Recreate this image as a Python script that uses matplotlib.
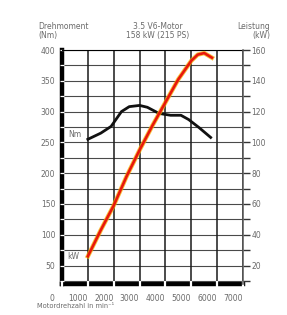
import matplotlib
matplotlib.use("Agg")
import matplotlib.pyplot as plt
import matplotlib.transforms as mtransforms
import numpy as np

# --- data ---
rpm_torque = [1000, 1500, 1900, 2300, 2600, 3000, 3300, 3750, 4200, 4600, 4900, 5300, 5750]
torque_nm = [255, 265, 276, 300, 308, 310, 307, 297, 294, 294, 287, 274, 258]
rpm_power = [1000, 1500, 2000, 2500, 3000, 3500, 4000, 4500, 5000, 5250, 5500, 5800]
power_kw = [26, 43, 59, 78, 95, 111, 126, 141, 153, 157, 158, 155]
x_ticks = [0, 1000, 2000, 3000, 4000, 5000, 6000, 7000]
nm_ticks = [50, 100, 150, 200, 250, 300, 350, 400]
kw_ticks = [20, 40, 60, 80, 100, 120, 140, 160]

gray = "#6a6a6a"
fig = plt.figure(figsize=(2.87, 3.15), dpi=100)
ax = fig.add_axes([62/287, 1 - 284/315, 181/287, 234/315])
ax.set_xlim(0, 7000)
ax.set_ylim(20, 400)

# grid
for y in np.arange(25, 401, 25):
    ax.axhline(y, color="#4a4a4a", lw=0.8, zorder=1)
for x in x_ticks[1:]:
    ax.axvline(x, color="#1a1a1a", lw=1.1, zorder=1)

# curves
ax.plot(rpm_torque, torque_nm, color="#111111", lw=2.0, zorder=4)
ax2 = ax.twinx()
ax2.set_ylim(8, 160)
ax2.plot(rpm_power, power_kw, color="#f7b000", lw=3.2, zorder=3, alpha=0.75)
ax2.plot(rpm_power, power_kw, color="#e8180c", lw=1.9, zorder=4)

# spines
for s in ["left", "bottom"]:
    ax.spines[s].set_linewidth(3.2)
    ax.spines[s].set_color("black")
    ax.spines[s].set_zorder(0.6)
ax.spines["top"].set_linewidth(0.8)
ax.spines["right"].set_visible(False)
ax2.spines["right"].set_color("#555555")
ax2.spines["right"].set_linewidth(1.1)
for s in ["left", "bottom", "top"]:
    ax2.spines[s].set_visible(False)

ax.set_xticks(x_ticks)
ax.set_xticklabels([str(v) for v in x_ticks])
ax.set_yticks(nm_ticks)
ax.set_yticks(np.arange(25, 401, 25), minor=True)
ax.tick_params(axis="y", which="both", direction="inout", length=3.5, width=0.9,
               color="white", labelcolor=gray, labelsize=5.5, pad=3)
ax.tick_params(axis="x", which="both", direction="inout", length=4, width=1.6,
               color="white", labelcolor=gray, labelsize=5.5, pad=5)
offset = mtransforms.ScaledTranslation(-10/100, 0, fig.dpi_scale_trans)
for lab in ax.get_xticklabels():
    lab.set_transform(lab.get_transform() + offset)

ax2.set_yticks(kw_ticks)
ax2.set_yticks(np.arange(10, 160, 20), minor=True)
ax2.tick_params(axis="y", which="major", direction="out", length=5, width=1,
                color="#333333", labelcolor=gray, labelsize=5.5, pad=1)
ax2.tick_params(axis="y", which="minor", direction="out", length=5, width=1,
                color="#333333")

# labels
ax.text(500, 263, "Nm", fontsize=5.5, color=gray, ha="center", va="center", zorder=5)
ax.text(420, 64, "kW", fontsize=5.5, color=gray, ha="center", va="center", zorder=5)

fig.text(38/287, 1 - 31/315, "Drehmoment\n(Nm)", fontsize=5.5, color=gray,
         ha="left", va="center", linespacing=1.1)
fig.text(158/287, 1 - 31/315, "3.5 V6-Motor\n158 kW (215 PS)", fontsize=5.5,
         color=gray, ha="center", va="center", linespacing=1.1)
fig.text(270/287, 1 - 31/315, "Leistung\n(kW)", fontsize=5.5, color=gray,
         ha="right", va="center", linespacing=1.1, multialignment="right")
fig.text(37/287, 1 - 306/315, "Motordrehzahl in min\u207b\u00b9", fontsize=4.8,
         color=gray, ha="left", va="center")

fig.savefig("out.png", dpi=100)
